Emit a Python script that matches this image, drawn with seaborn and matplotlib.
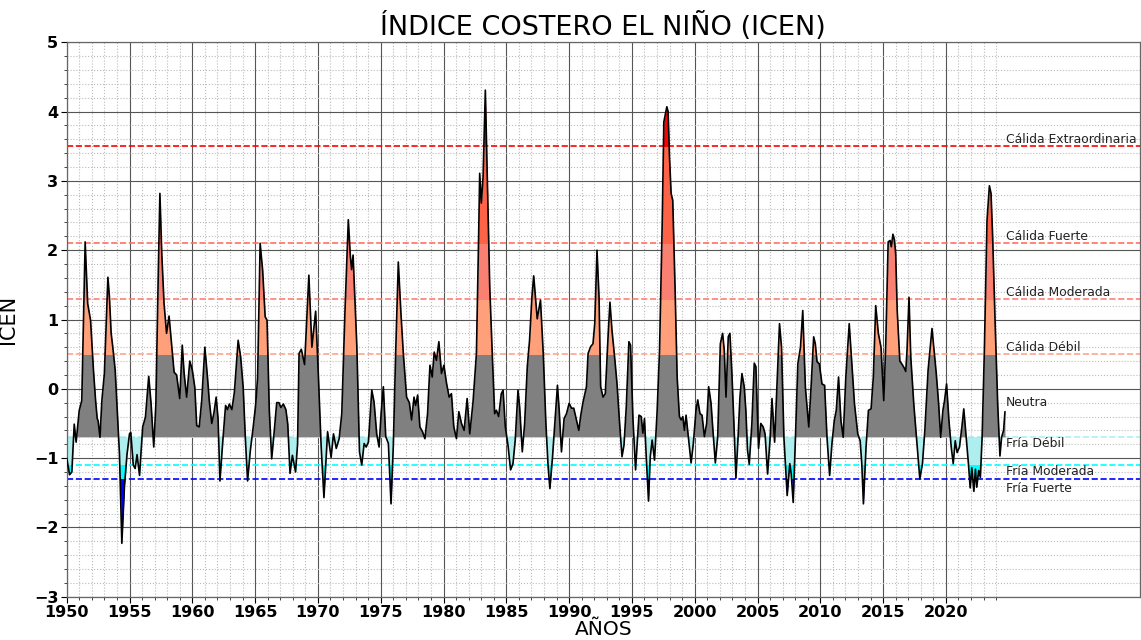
import numpy as np
import matplotlib
matplotlib.use("Agg")
import matplotlib.pyplot as plt
from matplotlib.patches import Rectangle
import seaborn as sns

# ---------------- data ----------------
anos = [
    1950.00, 1950.23, 1950.41, 1950.60, 1950.75, 1951.00, 1951.20, 1951.47, 1951.67, 1951.90,
    1952.13, 1952.30, 1952.43, 1952.50, 1952.65, 1952.80, 1953.00, 1953.28, 1953.40, 1953.54,
    1953.67, 1953.86, 1954.07, 1954.20, 1954.39, 1954.60, 1954.80, 1955.00, 1955.10, 1955.30,
    1955.45, 1955.60, 1955.80, 1956.05, 1956.27, 1956.53, 1956.72, 1956.93, 1957.10, 1957.30,
    1957.42, 1957.57, 1957.75, 1957.95, 1958.15, 1958.35, 1958.55, 1958.75, 1959.00, 1959.20,
    1959.35, 1959.55, 1959.80, 1960.00, 1960.20, 1960.35, 1960.55, 1960.75, 1961.00, 1961.22,
    1961.35, 1961.55, 1961.72, 1961.90, 1962.05, 1962.20, 1962.45, 1962.65, 1962.80, 1962.95,
    1963.15, 1963.35, 1963.65, 1963.85, 1964.05, 1964.22, 1964.40, 1964.62, 1964.85, 1965.05,
    1965.20, 1965.40, 1965.60, 1965.80, 1965.95, 1966.13, 1966.32, 1966.53, 1966.72, 1966.90,
    1967.05, 1967.25, 1967.45, 1967.60, 1967.78, 1967.97, 1968.22, 1968.38, 1968.50, 1968.68,
    1968.94, 1969.28, 1969.52, 1969.82, 1970.05, 1970.26, 1970.48, 1970.77, 1971.05, 1971.24,
    1971.46, 1971.69, 1971.90, 1972.15, 1972.42, 1972.58, 1972.68, 1972.80, 1973.10, 1973.31,
    1973.49, 1973.68, 1973.84, 1974.02, 1974.29, 1974.47, 1974.68, 1974.87, 1975.03, 1975.21,
    1975.40, 1975.61, 1975.82, 1976.00, 1976.19, 1976.40, 1976.61, 1976.80, 1977.06, 1977.28,
    1977.46, 1977.65, 1977.78, 1977.94, 1978.12, 1978.33, 1978.52, 1978.73, 1978.92, 1979.10,
    1979.26, 1979.44, 1979.63, 1979.84, 1980.03, 1980.24, 1980.45, 1980.63, 1980.82, 1981.03,
    1981.22, 1981.43, 1981.64, 1981.88, 1982.09, 1982.35, 1982.62, 1982.80, 1982.88, 1983.01,
    1983.15, 1983.33, 1983.49, 1983.68, 1983.89, 1984.07, 1984.21, 1984.39, 1984.60, 1984.74,
    1984.92, 1985.13, 1985.34, 1985.53, 1985.71, 1985.93, 1986.06, 1986.27, 1986.46, 1986.67,
    1986.85, 1987.04, 1987.18, 1987.46, 1987.72, 1987.94, 1988.15, 1988.33, 1988.47, 1988.68,
    1988.86, 1989.07, 1989.21, 1989.39, 1989.60, 1989.79, 1990.00, 1990.19, 1990.37, 1990.58,
    1990.77, 1990.93, 1991.11, 1991.38, 1991.51, 1991.72, 1991.90, 1992.04, 1992.22, 1992.38,
    1992.51, 1992.70, 1992.88, 1993.10, 1993.25, 1993.41, 1993.62, 1993.81, 1994.02, 1994.21,
    1994.37, 1994.55, 1994.76, 1994.89, 1995.08, 1995.29, 1995.42, 1995.56, 1995.74, 1995.87,
    1996.00, 1996.14, 1996.32, 1996.46, 1996.61, 1996.80, 1997.01, 1997.20, 1997.41, 1997.54,
    1997.67, 1997.78, 1997.88, 1997.99, 1998.12, 1998.25, 1998.44, 1998.60, 1998.78, 1998.92,
    1999.05, 1999.18, 1999.31, 1999.52, 1999.71, 1999.89, 2000.10, 2000.24, 2000.42, 2000.58,
    2000.77, 2000.95, 2001.11, 2001.30, 2001.43, 2001.64, 2001.83, 2002.04, 2002.22, 2002.35,
    2002.49, 2002.67, 2002.80, 2002.96, 2003.12, 2003.28, 2003.45, 2003.60, 2003.76, 2003.94,
    2004.07, 2004.20, 2004.34, 2004.55, 2004.74, 2004.87, 2005.08, 2005.26, 2005.45, 2005.60,
    2005.80, 2006.00, 2006.15, 2006.36, 2006.57, 2006.75, 2006.91, 2007.10, 2007.36, 2007.57,
    2007.68, 2007.84, 2008.02, 2008.21, 2008.42, 2008.60, 2008.81, 2009.08, 2009.29, 2009.47,
    2009.60, 2009.74, 2009.92, 2010.13, 2010.34, 2010.53, 2010.74, 2010.92, 2011.11, 2011.27,
    2011.45, 2011.64, 2011.82, 2012.03, 2012.30, 2012.51, 2012.72, 2012.98, 2013.17, 2013.30,
    2013.43, 2013.64, 2013.83, 2014.04, 2014.22, 2014.41, 2014.62, 2014.83, 2015.05, 2015.21,
    2015.40, 2015.55, 2015.65, 2015.78, 2015.90, 2016.00, 2016.12, 2016.33, 2016.52, 2016.68,
    2016.80, 2016.90, 2017.06, 2017.20, 2017.44, 2017.65, 2017.92, 2018.13, 2018.32, 2018.58,
    2018.89, 2019.10, 2019.23, 2019.42, 2019.58, 2019.76, 2019.89, 2020.05, 2020.24, 2020.42,
    2020.58, 2020.74, 2020.89, 2021.08, 2021.27, 2021.42, 2021.61, 2021.79, 2021.93, 2022.06,
    2022.22, 2022.35, 2022.45, 2022.61, 2022.74, 2022.88, 2023.06, 2023.27, 2023.46, 2023.59,
    2023.72, 2023.91, 2024.12, 2024.30, 2024.43, 2024.59, 2024.70,
]
icen = [
    -1.00, -1.24, -1.20, -0.51, -0.77, -0.31, -0.17, 2.12, 1.23, 0.99,
    0.27, -0.17, -0.43, -0.46, -0.70, -0.17, 0.22, 1.61, 1.33, 0.80,
    0.60, 0.27, -0.46, -0.94, -2.23, -1.40, -0.95, -0.65, -0.63, -1.10,
    -1.15, -0.95, -1.25, -0.55, -0.41, 0.18, -0.22, -0.84, -0.22, 1.76,
    2.82, 1.95, 1.23, 0.80, 1.05, 0.65, 0.24, 0.20, -0.14, 0.63,
    0.22, -0.12, 0.40, 0.27, 0.02, -0.53, -0.55, -0.17, 0.60, 0.14,
    -0.17, -0.50, -0.35, -0.12, -0.43, -1.33, -0.70, -0.24, -0.30, -0.22,
    -0.30, -0.05, 0.70, 0.46, 0.02, -0.70, -1.33, -0.89, -0.55, -0.22,
    0.17, 2.10, 1.71, 1.04, 0.99, -0.31, -1.01, -0.60, -0.20, -0.20,
    -0.27, -0.22, -0.30, -0.51, -1.22, -0.96, -1.20, -0.80, 0.51, 0.57,
    0.35, 1.64, 0.60, 1.12, 0.13, -0.84, -1.57, -0.62, -0.99, -0.65,
    -0.86, -0.72, -0.36, 1.09, 2.44, 1.92, 1.72, 1.93, 0.61, -0.91,
    -1.10, -0.79, -0.84, -0.77, -0.02, -0.19, -0.65, -0.84, -0.36, 0.03,
    -0.69, -0.79, -1.66, -0.84, 0.51, 1.83, 1.09, 0.51, -0.12, -0.20,
    -0.45, -0.12, -0.24, -0.09, -0.55, -0.62, -0.72, -0.36, 0.34, 0.17,
    0.53, 0.41, 0.68, 0.22, 0.34, 0.08, -0.12, -0.07, -0.55, -0.72,
    -0.33, -0.50, -0.60, -0.14, -0.65, -0.19, 0.51, 2.24, 3.11, 2.68,
    3.06, 4.31, 3.01, 1.47, 0.46, -0.36, -0.31, -0.40, -0.07, -0.02,
    -0.55, -0.81, -1.17, -1.08, -0.74, -0.02, -0.26, -0.91, -0.50, 0.32,
    0.70, 1.33, 1.63, 1.01, 1.28, 0.51, -0.50, -1.13, -1.44, -0.98,
    -0.50, 0.05, -0.31, -0.91, -0.43, -0.36, -0.21, -0.28, -0.28, -0.45,
    -0.60, -0.38, -0.19, 0.03, 0.51, 0.61, 0.65, 0.94, 2.00, 1.33,
    0.03, -0.12, -0.07, 0.75, 1.25, 0.85, 0.46, 0.08, -0.50, -0.98,
    -0.81, -0.26, 0.68, 0.63, -0.43, -1.17, -0.79, -0.38, -0.40, -0.64,
    -0.43, -0.98, -1.62, -0.98, -0.74, -1.03, -0.31, 0.56, 2.38, 3.85,
    3.97, 4.07, 4.00, 3.35, 2.82, 2.72, 1.42, 0.17, -0.40, -0.45,
    -0.40, -0.60, -0.38, -0.74, -1.07, -0.79, -0.31, -0.16, -0.36, -0.38,
    -0.69, -0.50, 0.03, -0.21, -0.55, -1.07, -0.69, 0.65, 0.80, 0.56,
    -0.12, 0.75, 0.80, 0.22, -0.50, -1.29, -0.70, -0.12, 0.22, 0.03,
    -0.31, -0.88, -1.09, -0.50, 0.37, 0.32, -0.86, -0.50, -0.55, -0.65,
    -1.23, -0.72, -0.14, -0.77, 0.17, 0.94, 0.60, -0.70, -1.54, -1.08,
    -1.23, -1.64, -0.70, 0.36, 0.60, 1.13, 0.02, -0.55, 0.12, 0.75,
    0.65, 0.39, 0.36, 0.07, 0.05, -0.70, -1.25, -0.80, -0.46, -0.31,
    0.17, -0.46, -0.70, 0.17, 0.94, 0.36, -0.22, -0.65, -0.75, -1.08,
    -1.66, -0.84, -0.31, -0.29, 0.17, 1.20, 0.80, 0.60, -0.17, 0.65,
    2.12, 2.14, 2.05, 2.23, 2.15, 1.95, 1.13, 0.40, 0.35, 0.30,
    0.25, 0.55, 1.32, 0.46, -0.22, -0.70, -1.30, -1.08, -0.60, 0.27,
    0.87, 0.46, 0.22, -0.22, -0.70, -0.31, -0.17, 0.07, -0.46, -0.84,
    -1.08, -0.75, -0.92, -0.84, -0.55, -0.29, -0.70, -1.08, -1.43, -1.14,
    -1.48, -1.16, -1.42, -1.18, -1.28, -0.70, 0.55, 2.43, 2.93, 2.82,
    2.19, 0.99, -0.22, -0.97, -0.70, -0.60, -0.33,
]

# thresholds, colours and category labels
umbrales = [3.5, 2.1, 1.3, 0.5, -0.7, -1.1, -1.3]
colores_umbral = ["red", "#ff6f61", "#ff7f73", "#ffa38a", "#aef0f0", "cyan", "blue"]
bandas = [(-0.7, 0.5), (0.5, 1.3), (1.3, 2.1), (2.1, 3.5), (3.5, 10.0),
          (-1.1, -0.7), (-1.3, -1.1), (-10.0, -1.3)]
colores_banda = ["gray", "lightsalmon", "salmon", "tomato", "red",
                 "paleturquoise", "cyan", "blue"]
etiquetas = ["Cálida Extraordinaria", "Cálida Fuerte", "Cálida Moderada", "Cálida Débil",
             "Neutra", "Fría Débil", "Fría Moderada", "Fría Fuerte"]
etiqueta_y = [3.5, 2.1, 1.3, 0.5, -0.1, -0.7, -1.1, -1.35]
etiqueta_va = ["bottom", "bottom", "bottom", "bottom", "top", "top", "top", "top"]

# ---------------- figure ----------------
sns.set_style("white")
plt.rcParams["font.family"] = ["DejaVu Sans"]
plt.rcParams["text.color"] = "black"
plt.rcParams["axes.labelcolor"] = "black"

W, H = 1141, 640
fig = plt.figure(figsize=(W / 100, H / 100), dpi=100)
ax = fig.add_axes([66.7 / W, (H - 596.7) / H, (1140 - 66.7) / W, (596.7 - 42.3) / H])

x = np.asarray(anos)
y = np.asarray(icen)

xmin, xmax = 1950, 2035.45
ax.set_xlim(xmin, xmax)
ax.set_ylim(-3, 5)

# grid
ax.set_xticks(np.arange(1950, 2021, 5))
ax.set_xticks(np.arange(1950, 2025, 1), minor=True)
ax.set_yticks(np.arange(-3, 6, 1))
ax.set_yticks(np.arange(-3, 5.01, 0.2), minor=True)
ax.set_axisbelow(True)
ax.grid(which="major", color="#555555", lw=0.8, zorder=0)
ax.grid(which="minor", color="#bbbbbb", lw=0.8, ls=":", zorder=0)

# threshold lines
for u, c in zip(umbrales, colores_umbral):
    ax.axhline(u, color=c, ls="--", lw=1.2, zorder=1)

# coloured bands under the curve (area between -0.7 and the index)
for (lo, hi), c in zip(bandas, colores_banda):
    poly = ax.fill_between(x, -0.7, y, color=c, lw=0, zorder=2)
    rect = Rectangle((xmin - 5, lo), (xmax - xmin) + 10, hi - lo, transform=ax.transData)
    poly.set_clip_path(rect)

sns.lineplot(x=x, y=y, color="black", lw=1.2, ax=ax, zorder=3, sort=False)

for lab, yy, va in zip(etiquetas, etiqueta_y, etiqueta_va):
    ax.text(2024.75, yy, lab, fontsize=8.9, color="#222222", va=va, ha="left", zorder=4)

ax.set_title("ÍNDICE COSTERO EL NIÑO (ICEN)", fontsize=19.5, pad=5, color="black")
ax.set_xlabel("AÑOS", fontsize=14.5, labelpad=0, color="black")
ax.set_ylabel("ICEN", fontsize=15, labelpad=0, color="black")
ax.yaxis.set_label_coords(-0.045, 0.5)

ax.tick_params(which="major", direction="out", length=4, width=0.8, labelsize=11.5,
               bottom=True, left=True, colors="black", pad=2)
ax.tick_params(which="minor", direction="out", length=2.5, width=0.6,
               bottom=True, left=True)
for lbl in ax.get_xticklabels() + ax.get_yticklabels():
    lbl.set_fontweight("bold")
for s in ax.spines.values():
    s.set_color("#666666")
    s.set_linewidth(0.9)

fig.savefig("out.png", dpi=100)
